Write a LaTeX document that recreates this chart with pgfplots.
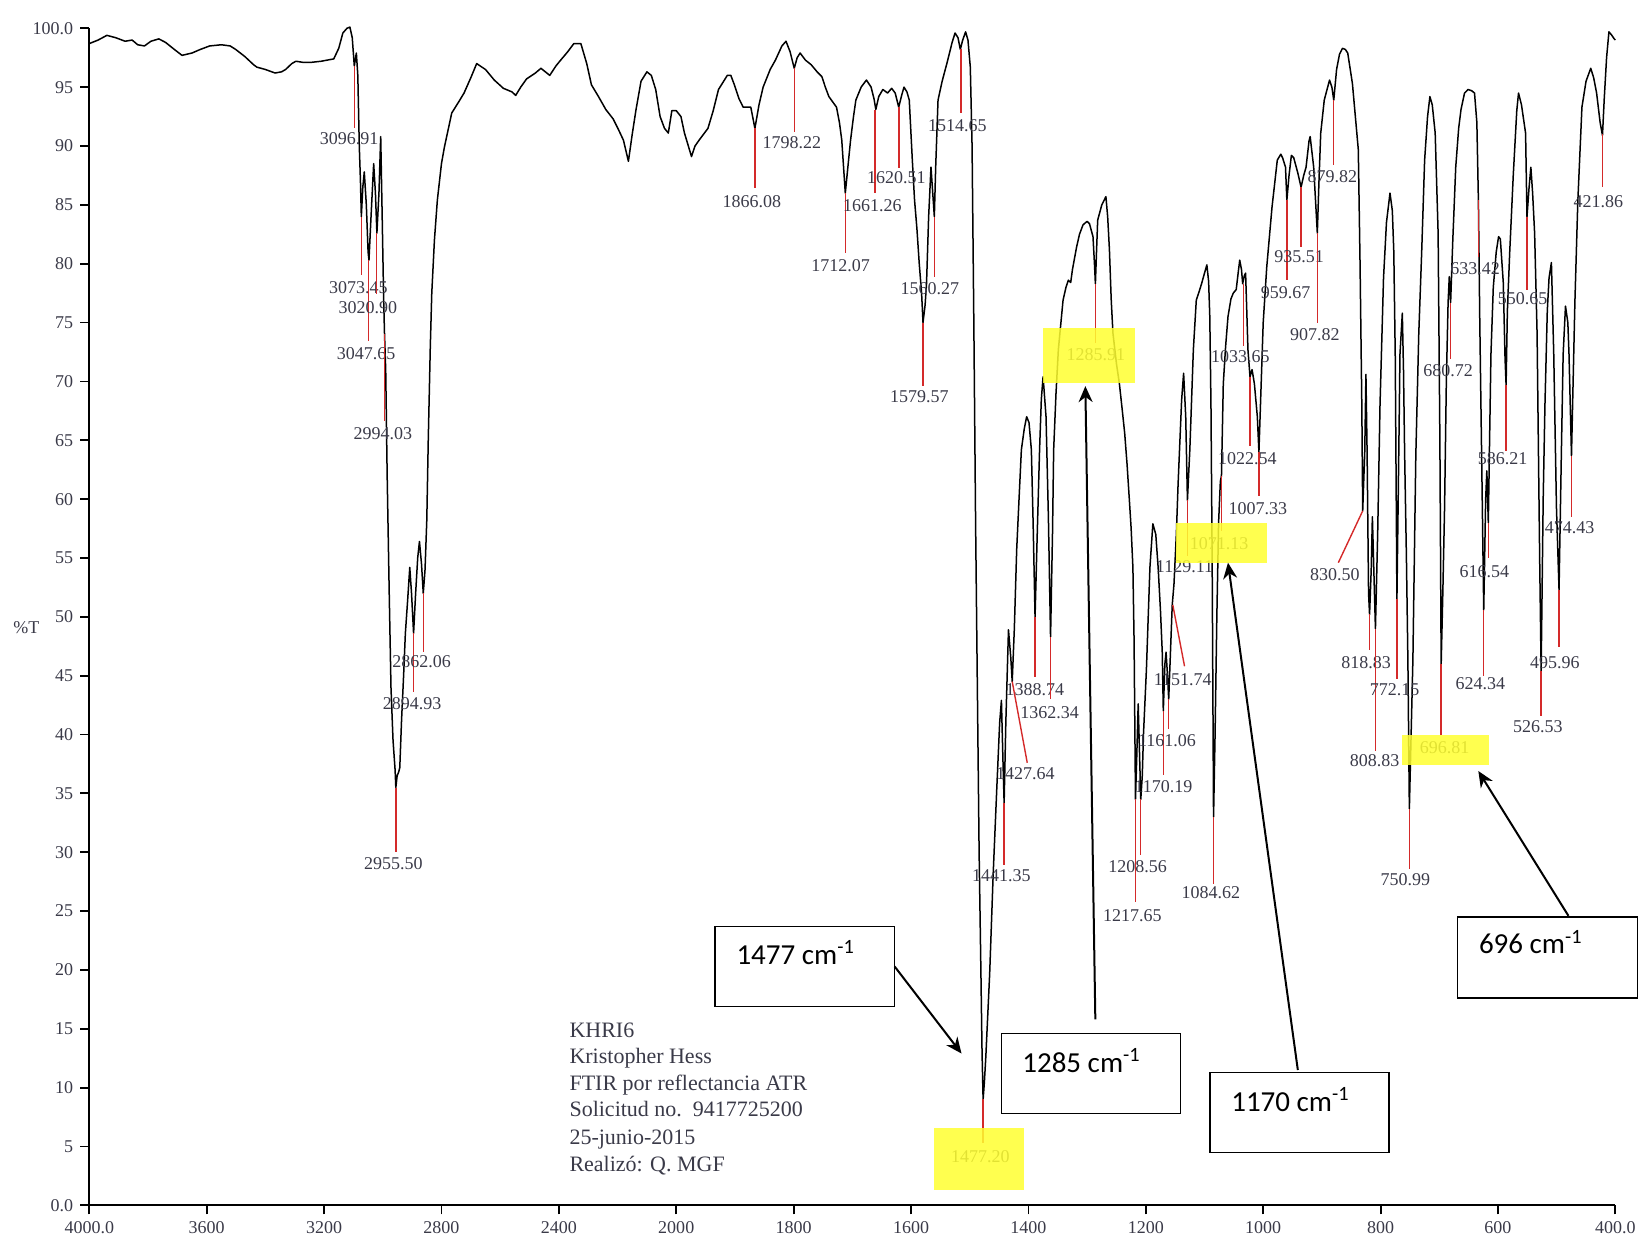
\documentclass[border=0pt]{standalone}
\usepackage{pgfplots}
\pgfplotsset{compat=1.18}
\usepackage{pgfplotstable}
\usepackage{fontspec}
\setmainfont{Liberation Serif}
\newfontfamily\calibri{Carlito}
\usetikzlibrary{arrows.meta}

\definecolor{lblgray}{HTML}{3A3A48}
\definecolor{pkred}{HTML}{D42A2A}
\definecolor{hiyel}{HTML}{FFFF30}

% FTIR spectrum, %T against wavenumber (cm-1)
\pgfplotstableread{
w T
4000 98.7
3970 99.0
3940 99.4
3910 99.2
3878 98.9
3854 99.0
3835 98.6
3812 98.5
3790 98.9
3763 99.1
3740 98.8
3710 98.2
3684 97.7
3650 97.9
3622 98.2
3590 98.5
3550 98.6
3520 98.5
3501 98.2
3470 97.6
3440 96.9
3429 96.7
3400 96.5
3367 96.2
3345 96.3
3331 96.5
3310 97.0
3296 97.2
3270 97.1
3246 97.1
3210 97.2
3167 97.4
3150 98.3
3136 99.6
3122 100.0
3112 100.1
3104 99.2
3097 96.8
3090 97.9
3085 96.0
3080 90.0
3076 87.0
3073 84.0
3068 86.5
3063 87.8
3056 85.0
3050 81.0
3047 80.3
3040 84.0
3031 88.5
3025 86.0
3020 82.6
3013 86.0
3007 90.8
3002 84.0
2997 77.0
2994 74.0
2990 71.0
2985 62.0
2978 52.0
2972 44.0
2965 39.5
2958 37.0
2955.5 35.5
2951 36.5
2946 36.8
2942 37.2
2936 41.2
2929 45.0
2923 48.6
2915 51.5
2908 54.2
2902 52.0
2895 48.6
2888 52.0
2881 55.0
2875 56.4
2868 54.5
2862 52.0
2856 54.0
2850 58.2
2845 65.0
2838 73.0
2833 77.5
2824 82.0
2814 85.4
2800 88.5
2790 89.9
2765 92.8
2740 93.8
2723 94.5
2700 95.8
2680 97.0
2650 96.5
2620 95.6
2589 94.9
2560 94.6
2547 94.3
2530 95.0
2510 95.7
2480 96.2
2461 96.6
2431 96.0
2410 96.8
2397 97.2
2370 98.0
2349 98.7
2325 98.7
2305 97.0
2289 95.2
2265 94.2
2240 93.1
2215 92.3
2197 91.4
2180 90.5
2163 88.7
2150 91.0
2137 93.1
2120 95.5
2100 96.3
2085 96.0
2070 94.8
2055 92.5
2040 91.5
2027 91.1
2015 93.0
2000 93.0
1992 92.5
1986 91.1
1974 89.1
1968 90.0
1961 90.5
1946 91.5
1937 93.0
1928 94.8
1913 96.0
1907 96.0
1901 95.2
1893 94.0
1886 93.3
1873 93.3
1866 91.5
1859 93.5
1852 95.0
1840 96.5
1831 97.3
1820 98.5
1813 98.9
1806 98.0
1799 96.6
1794 97.5
1789 97.9
1780 97.3
1770 96.9
1760 96.3
1752 95.9
1746 95.0
1740 94.2
1727 93.3
1722 92.0
1718 90.5
1712 86.0
1707 88.5
1703 90.5
1698 92.5
1694 93.9
1685 95.0
1676 95.6
1668 95.0
1663 94.0
1660 93.1
1655 94.2
1648 94.8
1640 94.5
1633 94.9
1627 94.5
1621 93.3
1616 94.3
1612 95.0
1607 94.6
1603 93.9
1598 89.0
1594 85.4
1590 83.0
1586 80.0
1582 77.5
1579.6 75.0
1576 76.5
1573.6 78.3
1570 84.0
1566 88.2
1563 86.0
1560.3 84.0
1558 88.2
1554 93.9
1547 95.5
1539 97.0
1530 98.8
1525 99.6
1520 99.2
1516 98.2
1512 99.0
1507 99.7
1503 99.0
1499 96.7
1496 90.0
1493 75.0
1490 58.0
1487 44.0
1484 30.0
1481 20.0
1479 13.0
1477.2 9.0
1475 10.5
1472.6 12.6
1466 19.7
1460 28.2
1454 35.3
1449 41.0
1446 42.9
1443.5 38.0
1441.4 34.2
1438.5 41.0
1434 48.9
1430 46.5
1427.6 44.5
1424 49.0
1420 55.7
1416 60.0
1412 64.2
1407 66.0
1403 67.0
1399 66.5
1395 64.2
1392 58.0
1388.7 50.0
1385 57.0
1381 64.2
1378 68.5
1375 70.4
1370 67.0
1366 58.5
1362.3 48.3
1359 57.0
1357 64.2
1353 69.0
1349 72.7
1341 76.9
1336 78.0
1332 78.6
1328 78.4
1325 79.5
1318 81.4
1313 82.5
1307 83.3
1300 83.6
1296 83.4
1290 82.3
1287.5 80.0
1285.9 78.3
1284 81.0
1282 83.7
1275 85.0
1268 85.7
1265 84.0
1262 81.2
1259 77.0
1256 74.1
1250 71.5
1245 69.8
1240 67.5
1236 65.6
1232 63.0
1228 59.9
1225 57.5
1222 54.2
1220 48.0
1217.6 34.5
1215.5 38.0
1213 42.6
1210.5 38.0
1208.6 34.5
1206 36.5
1204 40.0
1199 45.5
1193 54.2
1188 57.9
1183 57.0
1179 54.2
1175 50.5
1172 47.0
1170.2 42.0
1167.5 46.0
1165.5 47.0
1163 45.0
1161 43.0
1158 47.0
1155 51.0
1152 52.8
1148 57.0
1145 61.3
1139 68.4
1135.6 70.7
1132 67.0
1129.1 59.9
1125 64.2
1119 72.7
1114 76.9
1110 77.5
1105 78.3
1100 79.2
1096 79.9
1093 78.5
1091 75.5
1089 68.0
1087 55.0
1084.6 33.0
1082 40.0
1079 50.0
1076 58.0
1073 61.5
1071.1 62.0
1068 69.8
1064 73.0
1060 75.5
1055 77.0
1051 77.5
1046 77.8
1042 79.5
1040 80.3
1037 79.5
1035 78.3
1032 79.0
1030 79.2
1028 76.0
1026 72.7
1022.5 70.4
1019 71.0
1015 69.8
1010 67.0
1007.3 64.0
1004 69.0
1000 75.0
994 79.7
985 84.8
976 88.8
970 89.3
967 89.0
962 88.2
959.7 85.4
956 87.5
952 89.2
948 89.0
941 87.7
935.5 86.5
931 87.5
927 88.2
922 90.4
920 90.8
917 89.5
914 88.2
911 85.5
907.8 82.6
905 87.0
902 91.1
896 93.9
887 95.6
883 95.0
879.8 93.9
875 96.5
870 97.8
865 98.3
860 98.2
856 97.9
848 95.3
843 92.5
838 89.7
835 80.0
832 68.0
830.5 59.0
827 64.0
825 70.6
823 64.0
820.5 52.0
818.8 50.2
816 54.0
814 58.5
811 53.0
808.8 49.0
805 57.0
801 68.0
795 78.8
790 83.5
784 86.0
780 84.5
777.5 81.0
775 72.0
772.2 51.5
769 64.0
767 72.3
763 75.8
761 71.0
759 63.7
756 55.0
753.5 46.3
751 33.7
748 40.0
745 46.3
740 63.7
735 74.0
730 81.0
725 88.8
720 92.5
716 94.2
712 93.5
707 91.1
702 82.6
699 65.0
696.8 46.0
694 52.0
691 59.3
688 70.0
685 76.7
683 78.9
680.7 76.7
677 82.0
672 88.2
667 91.5
663 93.1
657 94.5
651 94.8
645 94.7
640 94.5
636 92.0
633.4 85.4
631 75.0
628 64.2
624.3 50.6
621 60.0
619 62.4
616.5 58.0
614 66.0
612 72.3
608 78.0
603 81.0
599 82.3
596 82.1
591 78.4
588 72.0
586.2 69.7
584 76.0
580 81.0
574 87.5
568 93.0
565 94.5
560 93.5
553 91.1
550.6 84.0
547 86.5
544 88.2
541 86.0
537.6 82.6
533.4 74.1
529 55.0
526.5 45.4
523 60.0
520 68.0
516 76.0
513 78.8
509 80.1
505 72.3
500.4 59.3
496 52.3
492 64.0
489 72.3
485 76.4
481 75.0
479 72.3
474.8 63.7
472 70.0
469 76.7
464 85.3
457 93.3
450 95.5
442 96.6
437 95.8
432 94.5
426 92.0
422 90.9
419 94.0
415 97.5
411 99.7
406 99.4
402 99.1
400 99.0
}\spectrum

% peak marker: wavenumber, top, bottom of red line, label position
\newcommand{\pk}[5]{%
  \addplot[pkred, line width=0.7pt, forget plot] coordinates {(#1,#2) (#1,#3)};
  \node[text=lblgray, font=\fontsize{9}{10}\selectfont, inner sep=0pt] at (axis cs:#4,#5) {#1};
}

\begin{document}
\begin{tikzpicture}
\begin{axis}[
  scale only axis, width=763pt, height=588.5pt,
  xmin=400, xmax=4000, ymin=0, ymax=100,
  x dir=reverse,
  x coord trafo/.code={%
    \begingroup
    \pgfkeys{/pgf/fpu=true,/pgf/fpu/output format=fixed}%
    \pgfmathparse{(#1>2000) ? (2000+(#1-2000)/2) : (#1)}%
    \xdef\wtrafo{\pgfmathresult}%
    \endgroup
    \let\pgfmathresult\wtrafo},
  x coord inv trafo/.code={%
    \begingroup
    \pgfkeys{/pgf/fpu=true,/pgf/fpu/output format=fixed}%
    \pgfmathparse{(#1>2000) ? (2000+(#1-2000)*2) : (#1)}%
    \xdef\wtrafo{\pgfmathresult}%
    \endgroup
    \let\pgfmathresult\wtrafo},
  axis x line*=bottom, axis y line*=left,
  x axis line style={-, line width=1pt},
  y axis line style={-, line width=1pt},
  tick style={black, line width=0.9pt},
  tick align=outside, major tick length=4.5pt,
  xtick={4000,3600,3200,2800,2400,2000,1800,1600,1400,1200,1000,800,600,400},
  xticklabels={4000.0,3600,3200,2800,2400,2000,1800,1600,1400,1200,1000,800,600,400.0},
  ytick={0,5,...,100},
  yticklabels={0.0,5,10,15,20,25,30,35,40,45,50,55,60,65,70,75,80,85,90,95,100.0},
  ticklabel style={font=\fontsize{9}{10}\selectfont, text=lblgray},
  clip=false,
]
\addplot[black, line width=0.75pt, line join=round] table[x=w, y=T] {\spectrum};

\pk{3096.91}{96.8}{91.5}{3115}{90.6}
\pk{3073.45}{84.0}{79.0}{3083}{78.0}
\pk{3047.65}{80.3}{73.4}{3057}{72.4}
\pk{3020.90}{82.6}{77.4}{3051}{76.3}
\pk{2994.03}{74.0}{66.6}{3000}{65.6}
\pk{2955.50}{35.5}{30.0}{2964}{29.0}
\pk{2894.93}{48.6}{43.6}{2900}{42.6}
\pk{2862.06}{52.0}{47.0}{2868}{46.2}
\pk{1866.08}{91.5}{86.4}{1871}{85.3}
\pk{1798.22}{96.6}{91.2}{1803}{90.3}
\pk{1712.07}{86.0}{80.9}{1720}{79.8}
\pk{1661.26}{93.1}{86.0}{1666}{84.9}
\pk{1620.51}{93.3}{88.1}{1625}{87.3}
\pk{1579.57}{75.0}{69.6}{1586}{68.7}
\pk{1560.27}{84.0}{78.9}{1568}{77.9}
\pk{1514.65}{98.2}{92.8}{1521}{91.7}
\pk{1477.20}{9.0}{5.3}{1482}{4.1}
\pk{1441.35}{34.2}{28.9}{1446}{28.0}
\pk{1388.74}{50.0}{44.9}{1389}{43.8}
\pk{1362.34}{48.3}{43.0}{1364}{41.9}
\pk{1285.91}{78.3}{73.3}{1285}{72.3}
\pk{1217.65}{34.5}{25.8}{1223}{24.6}
\pk{1208.56}{34.5}{29.8}{1214}{28.8}
\pk{1170.19}{42.0}{36.6}{1170}{35.6}
\pk{1161.06}{43.0}{40.5}{1164}{39.5}
\pk{1129.11}{59.9}{55.2}{1134}{54.3}
\pk{1084.62}{33.0}{27.3}{1089}{26.6}
\pk{1071.13}{62.0}{57.3}{1075}{56.2}
\pk{1033.65}{78.3}{73.0}{1039}{72.1}
\pk{1022.54}{70.4}{64.5}{1027}{63.4}
\pk{1007.33}{64.0}{60.3}{1009}{59.2}
\pk{959.67}{85.4}{78.6}{962}{77.5}
\pk{935.51}{86.5}{81.4}{939}{80.6}
\pk{907.82}{82.6}{75.0}{912}{74.0}
\pk{879.82}{93.9}{88.4}{882}{87.4}
\pk{818.83}{50.2}{47.2}{824.5}{46.1}
\pk{808.83}{49.0}{38.6}{810}{37.8}
\pk{772.15}{51.5}{44.7}{776}{43.8}
\pk{750.99}{33.7}{28.6}{758}{27.7}
\pk{696.81}{46.0}{40.0}{691}{38.9}
\pk{680.72}{76.7}{71.9}{685}{70.9}
\pk{633.42}{85.4}{80.6}{639}{79.6}
\pk{624.34}{50.6}{45.0}{630}{44.3}
\pk{616.54}{58.0}{55.0}{623}{53.8}
\pk{586.21}{69.7}{64.1}{592}{63.4}
\pk{550.65}{84.0}{77.8}{558}{77.0}
\pk{526.53}{45.4}{41.6}{532}{40.7}
\pk{495.96}{52.3}{47.4}{503}{46.1}
\pk{474.43}{63.7}{58.5}{478}{57.6}
\pk{421.86}{91.0}{86.5}{429}{85.3}

% slanted leader lines
\addplot[pkred, line width=0.7pt, forget plot] coordinates {(1427.6,44.5) (1402,37.6)};
\node[text=lblgray, font=\fontsize{9}{10}\selectfont, inner sep=0pt] at (axis cs:1405,36.7) {1427.64};
\addplot[pkred, line width=0.7pt, forget plot] coordinates {(1154,51) (1134,45.8)};
\node[text=lblgray, font=\fontsize{9}{10}\selectfont, inner sep=0pt] at (axis cs:1137,44.7) {1151.74};
\addplot[pkred, line width=0.7pt, forget plot] coordinates {(830.5,59) (872,54.6)};
\node[text=lblgray, font=\fontsize{9}{10}\selectfont, inner sep=0pt] at (axis cs:878,53.6) {830.50};

% highlights
\fill[hiyel, opacity=0.85] (axis cs:1375,74.5) rectangle (axis cs:1219,69.9);
\fill[hiyel, opacity=0.85] (axis cs:1148,58.0) rectangle (axis cs:994,54.6);
\fill[hiyel, opacity=0.85] (axis cs:764,40.0) rectangle (axis cs:616,37.4);
\fill[hiyel, opacity=0.85] (axis cs:1561,6.6) rectangle (axis cs:1407,1.3);

% y label
\node[text=lblgray, font=\fontsize{9}{10}\selectfont, xshift=-31.5pt] at (axis cs:4000,49.1) {\%T};

% sample info
\node[anchor=base west, inner sep=0pt, text=lblgray, font=\fontsize{11}{13}\selectfont] at (axis cs:2365,14.3) {KHRI6};
\node[anchor=base west, inner sep=0pt, text=lblgray, font=\fontsize{11}{13}\selectfont] at (axis cs:2365,12.07) {Kristopher Hess};
\node[anchor=base west, inner sep=0pt, text=lblgray, font=\fontsize{11}{13}\selectfont] at (axis cs:2365,9.75) {FTIR por reflectancia ATR};
\node[anchor=base west, inner sep=0pt, text=lblgray, font=\fontsize{11}{13}\selectfont] at (axis cs:2365,7.53) {Solicitud no.\ \ 9417725200};
\node[anchor=base west, inner sep=0pt, text=lblgray, font=\fontsize{11}{13}\selectfont] at (axis cs:2365,5.21) {25-junio-2015};
\node[anchor=base west, inner sep=0pt, text=lblgray, font=\fontsize{11}{13}\selectfont] at (axis cs:2365,2.9) {Realizó: Q. MGF};

% callouts
\draw[line width=0.75pt, fill=white] (axis cs:1934,23.7) rectangle (axis cs:1628,16.9);
\node[anchor=base west, inner sep=0pt, font=\calibri\fontsize{14.5}{16}\selectfont] at (axis cs:1898,20.5) {1477 cm\textsuperscript{-1}};
\draw[line width=1pt, -{Stealth[length=8pt, width=7pt]}] (axis cs:1628,20.3) -- (axis cs:1514,12.9);

\draw[line width=0.75pt, fill=white] (axis cs:1446,14.6) rectangle (axis cs:1141,7.8);
\node[anchor=base west, inner sep=0pt, font=\calibri\fontsize{14.5}{16}\selectfont] at (axis cs:1411,11.3) {1285 cm\textsuperscript{-1}};
\draw[line width=1pt, -{Stealth[length=8pt, width=7pt]}] (axis cs:1286,15.8) -- (axis cs:1303,69.6);

\draw[line width=0.75pt, fill=white] (axis cs:1091,11.3) rectangle (axis cs:785.6,4.5);
\node[anchor=base west, inner sep=0pt, font=\calibri\fontsize{14.5}{16}\selectfont] at (axis cs:1055,8.0) {1170 cm\textsuperscript{-1}};
\draw[line width=1pt, -{Stealth[length=8pt, width=7pt]}] (axis cs:941,11.5) -- (axis cs:1060,54.6);

\draw[line width=0.75pt, fill=white] (axis cs:669,24.5) rectangle (axis cs:362,17.6);
\node[anchor=base west, inner sep=0pt, font=\calibri\fontsize{14.5}{16}\selectfont] at (axis cs:633,21.4) {696 cm\textsuperscript{-1}};
\draw[line width=1pt, -{Stealth[length=8pt, width=7pt]}] (axis cs:480,24.6) -- (axis cs:633.5,36.9);
\end{axis}
\pgfresetboundingbox
\path ([shift={(-44.65pt,-18.5pt)}]current axis.south west) rectangle ([shift={(14.3pt,14.15pt)}]current axis.north east);
\end{tikzpicture}
\end{document}
